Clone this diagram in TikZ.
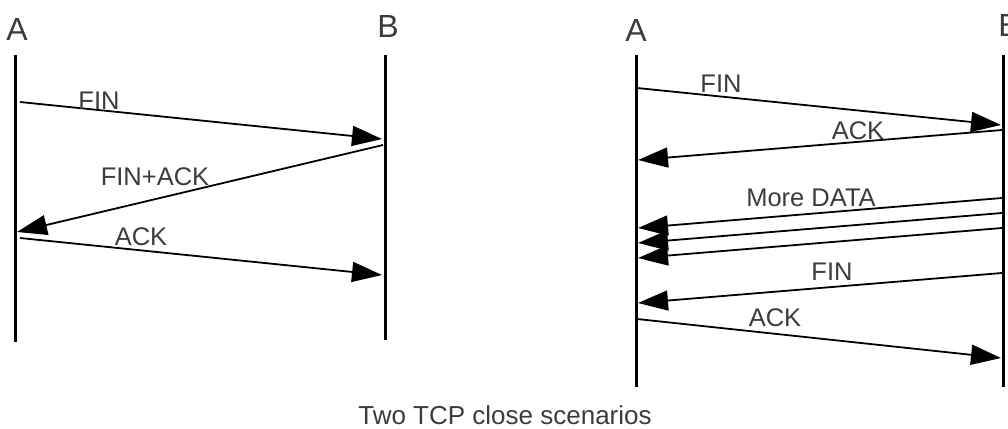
\documentclass[tikz,border=0pt]{standalone}
\usepackage{fontspec}
\setmainfont{Liberation Sans}
\usetikzlibrary{arrows.meta}
\definecolor{txt}{RGB}{60,60,60}
\begin{document}
\begin{tikzpicture}[x=1pt,y=-1pt,
  life/.style={line width=3pt,black},
  msg/.style={line width=1.8pt,black,-{Triangle[length=30pt,width=20pt]}},
  ent/.style={inner sep=0pt,text=txt,font=\fontsize{32}{38}\selectfont},
  lbl/.style={inner sep=0pt,text=txt,font=\fontsize{25.5}{30}\selectfont},
  capt/.style={inner sep=0pt,text=txt,font=\fontsize{26}{31}\selectfont}]
\useasboundingbox (0,0) rectangle (1008,428);
% left scenario
\node[ent] (LA) at (17,29.5) {A};
\node[ent] (LB) at (388,26) {B};
\coordinate (LAt) at (15,55); \coordinate (LAb) at (15,342);
\coordinate (LBt) at (385,55); \coordinate (LBb) at (385,340);
\draw[life] (LAt) -- (LAb);
\draw[life] (LBt) -- (LBb);
\coordinate (l1s) at (20,102); \coordinate (l1e) at (382,139);
\coordinate (l2s) at (383,145); \coordinate (l2e) at (17,232);
\coordinate (l3s) at (20,238); \coordinate (l3e) at (382,275);
\draw[msg] (l1s) -- (l1e);
\draw[msg] (l2s) -- (l2e);
\draw[msg] (l3s) -- (l3e);
\node[lbl] (lfin) at (99,101) {FIN};
\node[lbl] (lfinack) at (155,177) {FIN+ACK};
\node[lbl] (lack) at (141,237) {ACK};
% right scenario
\node[ent] (RA) at (636,30) {A};
\node[ent] (RB) at (1009,25) {B};
\coordinate (RAt) at (636,55); \coordinate (RAb) at (636,387);
\coordinate (RBt) at (1003,55); \coordinate (RBb) at (1003,387);
\draw[life] (RAt) -- (RAb);
\draw[life] (RBt) -- (RBb);
\coordinate (r1s) at (637,88); \coordinate (r1e) at (1001,125);
\coordinate (r2s) at (1002,130); \coordinate (r2e) at (638,160);
\coordinate (r3s) at (1002,198); \coordinate (r3e) at (638,228);
\coordinate (r4s) at (1002,213); \coordinate (r4e) at (638,243);
\coordinate (r5s) at (1002,228); \coordinate (r5e) at (638,258);
\coordinate (r6s) at (1002,273); \coordinate (r6e) at (638,303);
\coordinate (r7s) at (637,319); \coordinate (r7e) at (1001,358);
\draw[msg] (r1s) -- (r1e);
\draw[msg] (r2s) -- (r2e);
\draw[msg] (r3s) -- (r3e);
\draw[msg] (r4s) -- (r4e);
\draw[msg] (r5s) -- (r5e);
\draw[msg] (r6s) -- (r6e);
\draw[msg] (r7s) -- (r7e);
\node[lbl] (rfin1) at (721,84) {FIN};
\node[lbl] (rack1) at (858,131) {ACK};
\node[lbl] (rdata) at (811,198) {More DATA};
\node[lbl] (rfin2) at (832,272) {FIN};
\node[lbl] (rack2) at (775,318) {ACK};
% caption
\node[capt] (cap) at (505,415) {Two TCP close scenarios};
\end{tikzpicture}
\end{document}
